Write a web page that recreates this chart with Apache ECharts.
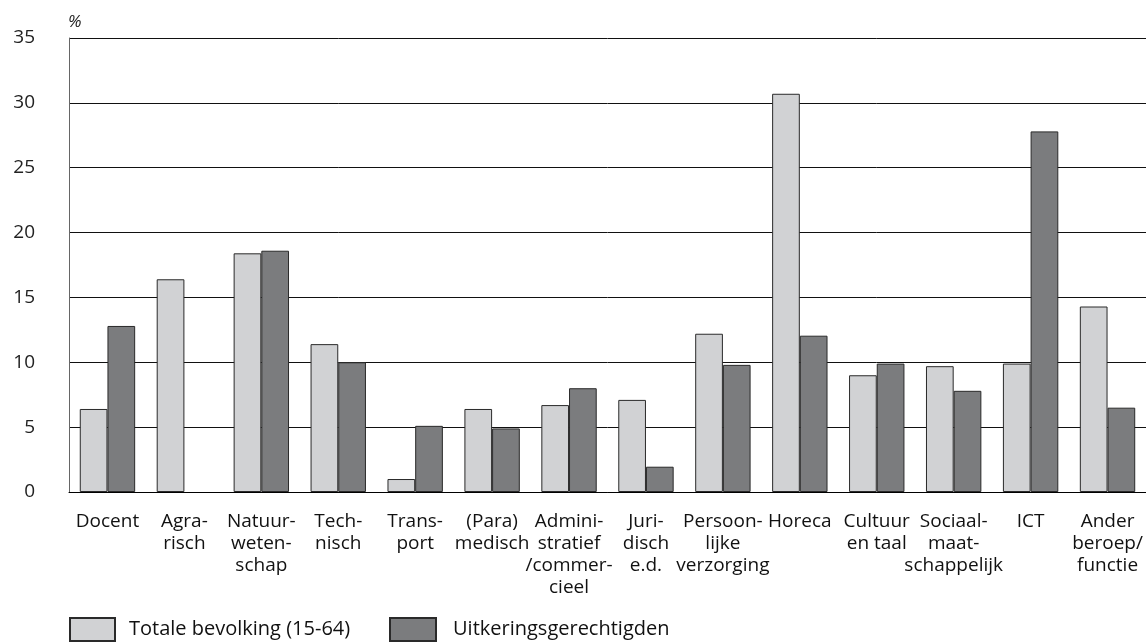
<!DOCTYPE html>
<html>
<head>
<meta charset="utf-8">
<script src="https://cdn.jsdelivr.net/npm/echarts@6/dist/echarts.min.js"></script>
<style>
html,body{margin:0;padding:0;background:#fff;}
#chart{width:1146px;height:644px;}
</style>
</head>
<body>
<div id="chart"></div>
<script>
const categories = ["Docent", "Agra-\nrisch", "Natuur-\nweten-\nschap", "Tech-\nnisch", "Trans-\nport", "(Para)\nmedisch", "Admini-\nstratief\n/commer-\ncieel", "Juri-\ndisch\ne.d.", "Persoon-\nlijke\nverzorging", "Horeca", "Cultuur\nen taal", "Sociaal-\nmaat-\nschappelijk", "ICT", "Ander\nberoep/\nfunctie"];
const totaleBevolking = [6.4, 16.4, 18.4, 11.4, 1.0, 6.4, 6.7, 7.1, 12.2, 30.7, 9.0, 9.7, 9.9, 14.3];
const uitkeringsgerechtigden = [12.8, 0, 18.6, 10.0, 5.1, 4.9, 8.0, 1.95, 9.8, 12.05, 9.9, 7.8, 27.8, 6.5];
const yTicks = [0, 5, 10, 15, 20, 25, 30, 35];
const seriesNames = ["Totale bevolking (15-64)", "Uitkeringsgerechtigden"];

const FONT = 'Open Sans';
const noZero = arr => arr.map(v => v === 0 ? null : v);
const chart = echarts.init(document.getElementById('chart'));
chart.setOption({
  animation: false,
  textStyle: {fontFamily: FONT},
  grid: {left: 69, right: 0, top: 38, bottom: 152},
  legend: [
    {left: 69, top: 617, padding: 0, itemWidth: 45, itemHeight: 23, itemGap: 0, icon: 'rect', data: [seriesNames[0]],
     textStyle: {fontFamily: FONT, fontSize: 20, color: '#111', padding: [3,0,0,9]}},
    {left: 389, top: 617, padding: 0, itemWidth: 46, itemHeight: 23, itemGap: 0, icon: 'rect', data: [seriesNames[1]],
     textStyle: {fontFamily: FONT, fontSize: 20, color: '#111', padding: [3,0,0,12]}}
  ],
  xAxis: {
    type: 'category',
    data: categories,
    axisLine: {lineStyle: {color: '#000', width: 1}},
    axisTick: {show: false},
    axisLabel: {fontFamily: FONT, fontSize: 19, color: '#111', lineHeight: 22, margin: 19, interval: 0}
  },
  yAxis: {
    type: 'value',
    min: yTicks[0], max: yTicks[yTicks.length-1], interval: 5,
    name: '%',
    nameLocation: 'end',
    nameGap: 16,
    nameTextStyle: {fontFamily: FONT, fontStyle: 'italic', fontSize: 17, color: '#222', align: 'left', verticalAlign: 'middle', padding: [0,0,0,-1]},
    axisLine: {show: true, lineStyle: {color: '#666', width: 1}},
    axisTick: {show: false},
    axisLabel: {fontFamily: FONT, fontSize: 19, color: '#222', margin: 34, formatter: v => yTicks.includes(v) ? String(v) : ''},
    splitLine: {lineStyle: {color: '#111', width: 1}}
  },
  series: [
    {name: seriesNames[0], type: 'bar', data: noZero(totaleBevolking), barGap: '0%', barCategoryGap: '28%',
     itemStyle: {color: '#d1d2d4', borderColor: '#2a2a2a', borderWidth: 1}},
    {name: seriesNames[1], type: 'bar', data: noZero(uitkeringsgerechtigden), barGap: '0%', barCategoryGap: '28%',
     itemStyle: {color: '#7b7c7e', borderColor: '#2a2a2a', borderWidth: 1}}
  ]
});
</script>
</body>
</html>
